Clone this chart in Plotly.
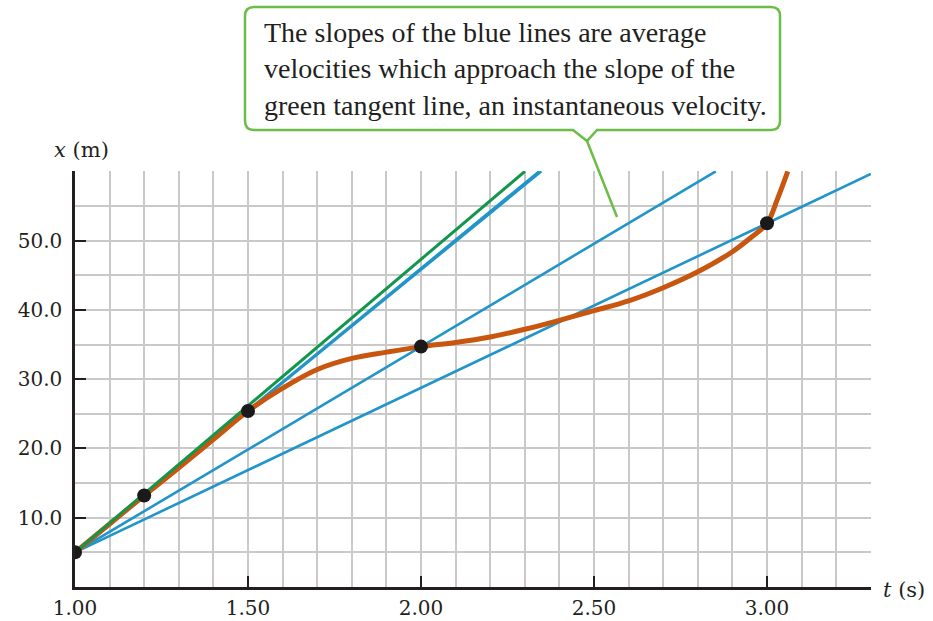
import plotly.graph_objects as go

# ---------------- data ----------------
t_curve = [1.0, 1.1, 1.2, 1.3, 1.4, 1.5, 1.6, 1.7, 1.8, 1.9, 2.0, 2.1, 2.2, 2.3,
           2.4, 2.5, 2.6, 2.7, 2.8, 2.9, 2.95, 3.0, 3.03, 3.06]
x_curve = [5.0, 9.1, 13.2, 17.2, 21.3, 25.4, 28.7, 31.4, 33.0, 33.9, 34.7, 35.3, 36.1, 37.2,
           38.5, 39.9, 41.3, 43.2, 45.5, 48.4, 50.3, 52.5, 56.0, 60.0]

t_pts = [1.0, 1.2, 1.5, 2.0, 3.0]
x_pts = [5.0, 13.2, 25.4, 34.7, 52.5]

tangent_slope = 42.3          # m/s, green tangent at t = 1.00 s

x_ticks = [1.0, 1.5, 2.0, 2.5, 3.0]
x_ticktext = ["1.00", "1.50", "2.00", "2.50", "3.00"]
y_ticks = [10, 20, 30, 40, 50, 60]
y_ticktext = ["10.0", "20.0", "30.0", "40.0", "50.0", ""]

T_MAX = 3.3
X_MAX = 60.0

callout_text = ("The slopes of the blue lines are average<br>"
                "velocities which approach the slope of the<br>"
                "green tangent line, an instantaneous velocity.")

# ---------------- styles ----------------
ORANGE = "#c9560e"
BLUE = "#2195c9"
GREEN = "#12964c"
CALLOUT = "#6bbd47"
GRID = "#c9c9c9"
INK = "#231f20"
TICKFONT = "DejaVu Serif"
TEXTFONT = "Liberation Serif"

W, H = 933, 621
ML, MR, MT, MB = 75, 62, 171, 34
PW, PH = W - ML - MR, H - MT - MB


def px(xpix):
    return (xpix - ML) / PW


def py(ypix):
    return (H - MB - ypix) / PH


fig = go.Figure()

# blue secant lines from first point through each later point
t0, x0 = t_pts[0], x_pts[0]
for ti, xi in zip(t_pts[1:], x_pts[1:]):
    s = (xi - x0) / (ti - t0)
    t_end = min(T_MAX, t0 + (X_MAX - x0) / s)
    fig.add_trace(go.Scatter(x=[t0, t_end], y=[x0, x0 + s * (t_end - t0)], mode="lines",
                             line=dict(color=BLUE, width=2.6), hoverinfo="skip",
                             showlegend=False))

# orange position curve
fig.add_trace(go.Scatter(x=t_curve, y=x_curve, mode="lines",
                         line=dict(color=ORANGE, width=5, shape="spline", smoothing=1.0),
                         showlegend=False))

# green tangent
t_end = t0 + (X_MAX - x0) / tangent_slope
fig.add_trace(go.Scatter(x=[t0, t_end], y=[x0, x0 + tangent_slope * (t_end - t0)],
                         mode="lines", line=dict(color=GREEN, width=3),
                         showlegend=False))

# points
fig.add_trace(go.Scatter(x=t_pts, y=x_pts, mode="markers",
                         marker=dict(color="#1a1a1a", size=14), showlegend=False))

# ---------------- callout ----------------
bx0, bx1, by0, by1, r = 245, 780, 7, 130, 9
nl, nv, nr, nvy = 573, 587, 597, 141
pts_path = [
    ("M", bx0 + r, by0), ("L", bx1 - r, by0), ("Q", bx1, by0, bx1, by0 + r),
    ("L", bx1, by1 - r), ("Q", bx1, by1, bx1 - r, by1),
    ("L", nr, by1), ("L", nv, nvy), ("L", nl, by1),
    ("L", bx0 + r, by1), ("Q", bx0, by1, bx0, by1 - r),
    ("L", bx0, by0 + r), ("Q", bx0, by0, bx0 + r, by0),
]
path = ""
for seg in pts_path:
    cmd = seg[0]
    coords = seg[1:]
    parts = []
    for i in range(0, len(coords), 2):
        parts.append(f"{px(coords[i]):.5f},{py(coords[i + 1]):.5f}")
    path += cmd + " " + " ".join(parts) + " "
path += "Z"

fig.add_shape(type="path", path=path, xref="paper", yref="paper",
              line=dict(color=CALLOUT, width=2.5), fillcolor="white", layer="above")
fig.add_shape(type="line", xref="paper", yref="paper",
              x0=px(nv), y0=py(nvy), x1=px(617), y1=py(217),
              line=dict(color=CALLOUT, width=2.5), layer="above")

fig.add_annotation(text=callout_text, xref="paper", yref="paper",
                   x=px(262), y=py(15), xanchor="left", yanchor="top", align="left",
                   showarrow=False, font=dict(family=TEXTFONT, size=28, color=INK))

# axis titles
fig.add_annotation(text="<i>x</i> (m)", xref="paper", yref="paper",
                   x=px(81), y=py(150), xanchor="center", yanchor="middle",
                   showarrow=False, font=dict(family=TICKFONT, size=21, color=INK))
fig.add_annotation(text="<i>t</i> (s)", xref="paper", yref="paper",
                   x=px(904), y=py(590), xanchor="center", yanchor="middle",
                   showarrow=False, font=dict(family=TICKFONT, size=21, color=INK))

fig.update_layout(
    width=W, height=H,
    margin=dict(l=ML, r=MR, t=MT, b=MB, pad=0, autoexpand=False),
    paper_bgcolor="white", plot_bgcolor="white",
    xaxis=dict(range=[1.0, 3.3005], tickvals=x_ticks, ticktext=x_ticktext,
               ticks="inside", ticklen=11, tickwidth=2, tickcolor=INK,
               showline=True, linecolor=INK, linewidth=2.5, automargin=False,
               showgrid=True, gridcolor=GRID, gridwidth=1.6, zeroline=False,
               minor=dict(dtick=0.1, tick0=1.0, showgrid=True, gridcolor=GRID,
                          gridwidth=1.6, ticks=""),
               tickfont=dict(family=TICKFONT, size=20, color=INK),
               ticklabelstandoff=1, fixedrange=True),
    yaxis=dict(range=[0, 60.05], tickvals=y_ticks, ticktext=y_ticktext,
               ticks="inside", ticklen=11, tickwidth=2, tickcolor=INK,
               showline=True, linecolor=INK, linewidth=2.5, automargin=False,
               showgrid=True, gridcolor=GRID, gridwidth=1.6, zeroline=False,
               minor=dict(dtick=5, tick0=0, showgrid=True, gridcolor=GRID,
                          gridwidth=1.6, ticks=""),
               tickfont=dict(family=TICKFONT, size=20, color=INK),
               ticklabelstandoff=6, fixedrange=True),
)

fig.write_html("out.html", config={"displayModeBar": False},
               post_script="document.body.style.margin='0';")
